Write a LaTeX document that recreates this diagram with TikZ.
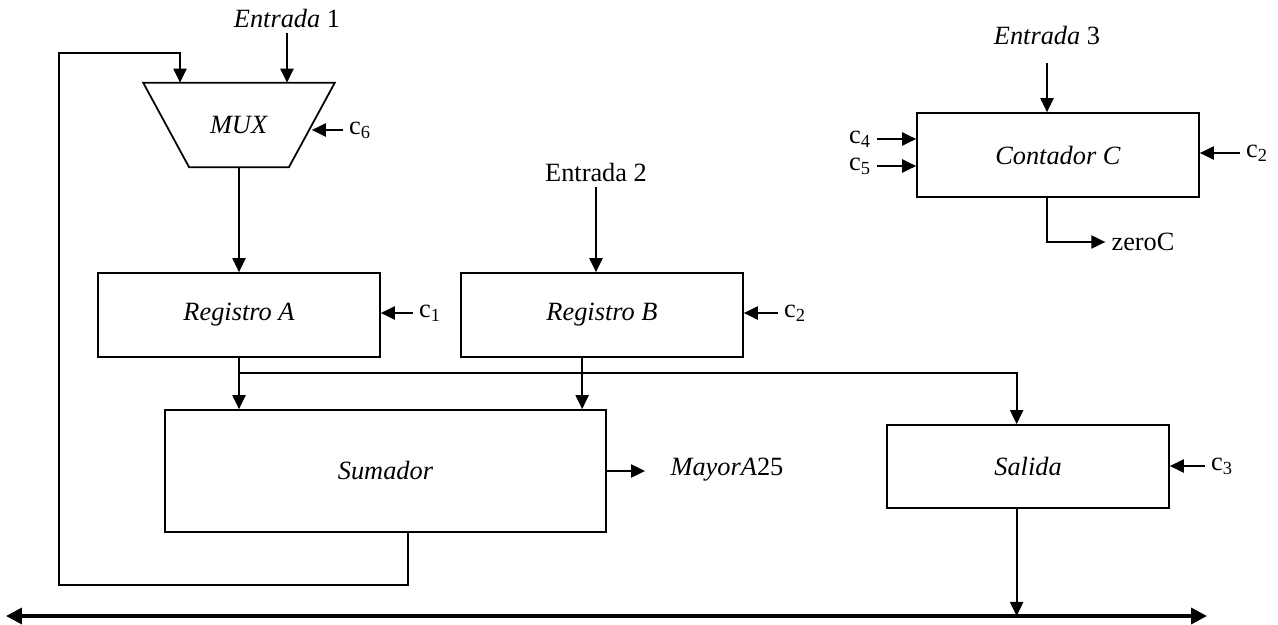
\documentclass[tikz,border=0pt]{standalone}
\usepackage{fontspec}
\setmainfont{Liberation Serif}
\usepackage{tikz}
\usetikzlibrary{shapes.geometric, arrows.meta, positioning, calc}

\tikzset{
  block/.style={draw, line width=1pt, inner sep=0pt, minimum width=5.64cm, minimum height=1.68cm},
  sig/.style={line width=1pt, -{Triangle[length=8pt, width=7.5pt]}},
  bus/.style={line width=2pt, {Triangle[length=9pt, width=9pt]}-{Triangle[length=9pt, width=9pt]}}
}

\begin{document}
\begin{tikzpicture}[x=0.02cm, y=-0.02cm, font=\fontsize{15}{18}\selectfont]
    \useasboundingbox (0,0) rectangle (1278,625);
    % MUX
    \node[inner sep=0pt, minimum width=3.82cm, minimum height=1.68cm] (mux) at (239,125) {\textit{MUX}};
    \draw[line width=1pt] (mux.north west) -- (mux.north east) -- ([xshift=-0.92cm]mux.south east)
        -- ([xshift=0.92cm]mux.south west) -- cycle;
    \node (e1) at (287,18) {\textit{Entrada} 1};
    \node (c6) at (360,130) {c\textsubscript{6}};
    \coordinate (muxfb) at ([xshift=-1.18cm]mux.north);
    \coordinate (muxc6) at ([xshift=-0.46cm]mux.east);
    \draw[sig] (e1) -- (e1 |- mux.north);
    \draw[sig] (c6) -- (c6 -| muxc6);
    % Registro A, Registro B
    \node[block] (regA) at (239,315) {\textit{Registro A}};
    \node[block] (regB) at (602,315) {\textit{Registro B}};
    \node (c1) at (430,313) {c\textsubscript{1}};
    \node (c2b) at (795,313) {c\textsubscript{2}};
    \node (e2) at (596,172) {Entrada 2};
    \draw[sig] (mux.south) -- (regA.north);
    \draw[sig] (e2) -- (e2 |- regB.north);
    \draw[sig] (c1) -- (c1 -| regA.east);
    \draw[sig] (c2b) -- (c2b -| regB.east);
    % Sumador, Salida
    \node[block, minimum width=8.82cm, minimum height=2.44cm] (sum) at (385.5,471) {\textit{Sumador}};
    \node[block, minimum height=1.66cm] (sal) at (1028,466.5) {\textit{Salida}};
    \node (may) at (727,470) {\textit{MayorA}25};
    \node (c3) at (1222,466) {c\textsubscript{3}};
    \coordinate (tap) at ([yshift=-0.3cm]regA.south);
    \coordinate (bout) at ($(regB.south west)!0.43!(regB.south east)$);
    \coordinate (salin) at ($(sal.north west)!0.46!(sal.north east)$);
    \draw[sig] (regA.south) -- (regA.south |- sum.north);
    \draw[sig] (bout) -- (bout |- sum.north);
    \draw[sig] (tap) -| (salin);
    \draw[sig, shorten >=11pt] (sum.east) -- (sum.east -| may.west);
    \draw[sig] (c3) -- (c3 -| sal.east);
    % Contador C
    \node[block] (cont) at (1058,155) {\textit{Contador C}};
    \node (e3) at (1047,35) {\textit{Entrada} 3};
    \node (c4) at (860,139) {c\textsubscript{4}};
    \node (c5) at (860,166) {c\textsubscript{5}};
    \node (c2c) at (1257,153) {c\textsubscript{2}};
    \node (zero) at (1143,242) {zeroC};
    \draw[sig, shorten <=7pt] (e3) -- (e3 |- cont.north);
    \draw[sig] (c4) -- (c4 -| cont.west);
    \draw[sig] (c5) -- (c5 -| cont.west);
    \draw[sig] (c2c) -- (c2c -| cont.east);
    \draw[sig] (e3 |- cont.south) |- (zero);
    % feedback and bus
    \coordinate (fbout) at ($(sum.south west)!0.55!(sum.south east)$);
    \coordinate (salout) at ($(sal.south west)!0.46!(sal.south east)$);
    \coordinate (busW) at (6,616);
    \coordinate (busE) at (1207,616);
    \draw[sig] (fbout) -- ++(0,52) -| (59,53) -| (muxfb);
    \draw[sig] (salout) -- (salout |- busW);
    \draw[bus] (busW) -- (busE);
\end{tikzpicture}
\end{document}
